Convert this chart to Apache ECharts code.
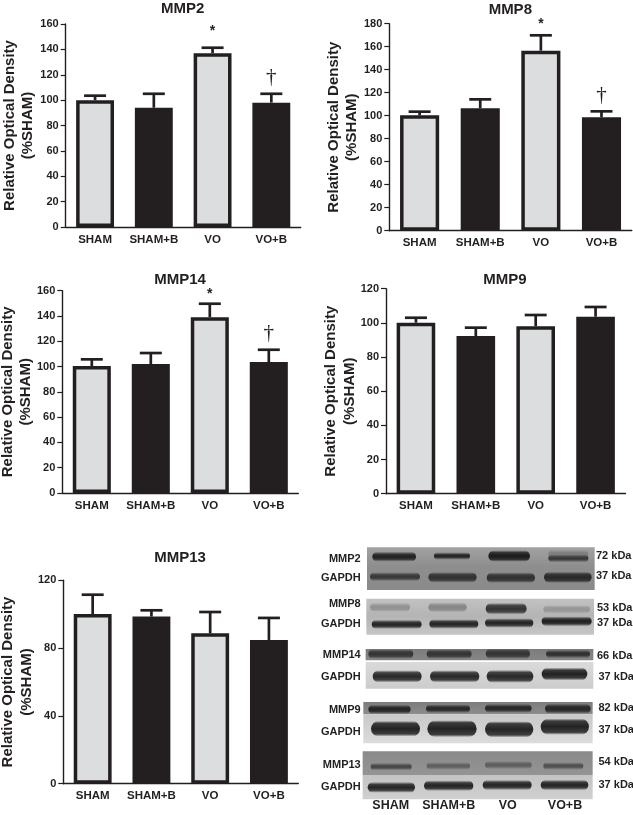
<!DOCTYPE html>
<html><head><meta charset="utf-8">
<style>html,body{margin:0;padding:0;background:#fff}#c{width:633px;height:815px}</style>
<script src="https://cdn.jsdelivr.net/npm/echarts@6/dist/echarts.min.js"></script>
</head><body><div id="c"></div>
<script>
// ---------- chart data ----------
const categories = ['SHAM', 'SHAM+B', 'VO', 'VO+B'];

const mmp2Means = [100, 94, 137, 98];
const mmp2Upper = [103.5, 105, 141.3, 105];
const mmp8Means = [100.3, 106.4, 156.5, 98.6];
const mmp8Upper = [103.5, 114.2, 169.9, 103.8];
const mmp14Means = [100.4, 102, 139, 103.6];
const mmp14Upper = [105.7, 110.7, 149.7, 113.3];
const mmp9Means = [100.1, 92.3, 98, 103.6];
const mmp9Upper = [103, 97.2, 104.6, 109.3];
const mmp13Means = [100.1, 98.6, 88.7, 84.8];
const mmp13Upper = [111.5, 102.3, 101.3, 97.8];

// significance marks: [category index, value the mark is centred on, glyph]
const mmp2Marks = [[2, 154, '*'], [3, 117.5, '†']];
const mmp8Marks = [[2, 180, '*'], [3, 118, '†']];
const mmp14Marks = [[2, 157, '*'], [3, 126, '†']];

const panels = [
  { name: 'MMP2',  means: mmp2Means,  upper: mmp2Upper,  marks: mmp2Marks,  max: 160, step: 20, left: 65.7,  top: 24,    w: 235,   h: 203,   tx: 182.7, ty: 9,     gap: 28.5 },
  { name: 'MMP8',  means: mmp8Means,  upper: mmp8Upper,  marks: mmp8Marks,  max: 180, step: 20, left: 389.3, top: 23.7,  w: 242.5, h: 207,   tx: 510.3, ty: 10,    gap: 28 },
  { name: 'MMP14', means: mmp14Means, upper: mmp14Upper, marks: mmp14Marks, max: 160, step: 20, left: 62.3,  top: 290.7, w: 236,   h: 202.3, tx: 180,   ty: 280.3, gap: 27 },
  { name: 'MMP9',  means: mmp9Means,  upper: mmp9Upper,  marks: [],         max: 120, step: 20, left: 386,   top: 288.7, w: 239.5, h: 205,   tx: 505,   ty: 280,   gap: 27 },
  { name: 'MMP13', means: mmp13Means, upper: mmp13Upper, marks: [],         max: 120, step: 40, left: 63.3,  top: 580.3, w: 235,   h: 203.4, tx: 180,   ty: 557.7, gap: 27.5 }
];

// ---------- western blot panel (units: blot grid, 3 units = 1 pixel) ----------
// strip: [x0, x1, y0, y1, top colour, bottom colour]
const blotStrips = [
  [141, 824, 52, 108, '#a2a2a2', '#8e8e8e'],
  [141, 824, 108, 180, '#8e8e8e', '#8a8a8a'],
  [139, 822, 206, 258, '#c2c2c2', '#b4b4b4'],
  [139, 822, 258, 314, '#b4b4b4', '#c6c6c6'],
  [137, 820, 357, 391, '#7c7c7c', '#868686'],
  [137, 820, 396, 476, '#dadada', '#cccccc'],
  [130, 818, 516, 553, '#7c7c7c', '#8c8c8c'],
  [130, 818, 553, 640, '#c8c8c8', '#dcdcdc'],
  [128, 818, 664, 735, '#8a8a8a', '#949494'],
  [128, 818, 735, 808, '#c4c4c4', '#d0d0d0']
];
// band: [x0, x1, centre y, thickness, darkness 0-1]
const blotBands = [
  [157, 288, 80, 15, .92], [342, 450, 78, 8, .92], [505, 630, 78, 20, .96], [685, 805, 85, 9, .75], [685, 805, 71, 8, .22],
  [150, 300, 140, 12, .72], [325, 470, 142, 17, .78], [500, 645, 143, 17, .78], [672, 815, 142, 19, .85],
  [150, 270, 232, 13, .25], [325, 440, 232, 15, .32], [497, 620, 236, 20, .82], [670, 810, 238, 11, .22],
  [155, 305, 283, 13, .92], [328, 475, 282, 14, .92], [495, 640, 279, 14, .92], [665, 815, 274, 15, .95],
  [145, 280, 372, 14, .72], [320, 455, 372, 14, .72], [497, 630, 371, 16, .72], [678, 810, 372, 10, .78],
  [158, 305, 439, 22, .9], [330, 478, 439, 22, .9], [500, 640, 439, 24, .9], [665, 802, 432, 24, .94],
  [145, 272, 538, 13, .88], [318, 450, 536, 11, .85], [495, 635, 535, 12, .85], [675, 812, 536, 15, .85],
  [153, 300, 596, 32, .93], [322, 470, 596, 36, .93], [495, 640, 598, 34, .92], [662, 807, 590, 34, .93],
  [152, 275, 710, 8, .62], [320, 450, 708, 8, .42], [495, 635, 705, 9, .42], [670, 790, 708, 8, .55],
  [143, 285, 772, 18, .92], [312, 460, 767, 17, .92], [488, 635, 765, 16, .92], [662, 805, 765, 17, .92]
];
// blot labels: [text, x pixel, y pixel, align]
const blotLabels = [
  ['MMP2', 360.7, 559, 'right'], ['GAPDH', 360.7, 577.7, 'right'],
  ['MMP8', 360.7, 604, 'right'], ['GAPDH', 360.7, 623.5, 'right'],
  ['MMP14', 360.7, 654.5, 'right'], ['GAPDH', 360.7, 676.5, 'right'],
  ['MMP9', 360.7, 709.5, 'right'], ['GAPDH', 360.7, 731.5, 'right'],
  ['MMP13', 360.7, 765, 'right'], ['GAPDH', 360.7, 787, 'right']
];
const kdaLabels = [
  ['72 kDa', 596, 556], ['37 kDa', 596, 576],
  ['53 kDa', 597, 607.5], ['37 kDa', 597, 622.5],
  ['66 kDa', 597, 656], ['37 kDa', 598.5, 677],
  ['82 kDa', 598.5, 707.5], ['37 kDa', 598.5, 729.5],
  ['54 kDa', 598.5, 762], ['37 kDa', 598.5, 785]
];
const blotLaneCentres = [390.7, 448.7, 507.7, 565];

// ---------- styles ----------
const INK = '#231f20', GREY = '#dcddde';
const SANS = '"Liberation Sans", Arial, sans-serif';

const grid = [], xAxis = [], yAxis = [], series = [], title = [];

panels.forEach((p, i) => {
  grid.push({ left: p.left, top: p.top, width: p.w, height: p.h, containLabel: false, outerBoundsMode: 'none' });
  xAxis.push({
    type: 'category', gridIndex: i, data: categories,
    axisLine: { lineStyle: { color: INK, width: 1.4 } },
    axisTick: { alignWithLabel: true, length: 4, lineStyle: { color: INK, width: 1.2 } },
    axisLabel: { color: INK, fontFamily: SANS, fontWeight: 'bold', fontSize: 11.5, margin: 6.5, interval: 0 }
  });
  yAxis.push({
    type: 'value', gridIndex: i, min: 0, max: p.max, interval: p.step,
    name: 'Relative Optical Density\n(%SHAM)', nameLocation: 'middle', nameGap: p.gap, nameMoveOverlap: false,
    nameTextStyle: { color: INK, fontFamily: SANS, fontWeight: 'bold', fontSize: 15, lineHeight: 18.5 },
    axisLine: { show: true, lineStyle: { color: INK, width: 1.4 } },
    axisTick: { show: true, length: 5, lineStyle: { color: INK, width: 1.2 } },
    splitLine: { show: false },
    axisLabel: { color: INK, fontFamily: SANS, fontWeight: 'bold', fontSize: 11, margin: 7 }
  });
  title.push({
    text: p.name, left: p.tx, top: p.ty, padding: 0, textAlign: 'center', textVerticalAlign: 'middle',
    textStyle: { color: INK, fontFamily: SANS, fontWeight: 'bold', fontSize: 15 }
  });
  series.push({
    type: 'bar', xAxisIndex: i, yAxisIndex: i, barWidth: p.w / 4 * 0.645, silent: true,
    data: p.means.map((v, k) => ({
      value: v,
      itemStyle: { color: k % 2 ? INK : GREY, borderColor: INK, borderWidth: 3.5 }
    }))
  });
  series.push({
    type: 'custom', xAxisIndex: i, yAxisIndex: i, silent: true, z: 3,
    data: p.upper.map((u, k) => [k, p.means[k], u]),
    encode: { x: 0, y: [1, 2] },
    renderItem(params, api) {
      const a = api.coord([api.value(0), api.value(1)]);
      const b = api.coord([api.value(0), api.value(2)]);
      const st = { stroke: INK, lineWidth: 2.7, fill: null };
      return { type: 'group', children: [
        { type: 'line', shape: { x1: a[0], y1: a[1], x2: b[0], y2: b[1] }, style: st },
        { type: 'line', shape: { x1: b[0] - 11, y1: b[1], x2: b[0] + 11, y2: b[1] }, style: st }
      ] };
    }
  });
  if (p.marks.length) series.push({
    type: 'custom', xAxisIndex: i, yAxisIndex: i, silent: true, z: 4,
    data: p.marks.map(m => [m[0], m[1]]),
    encode: { x: 0, y: 1 },
    renderItem(params, api) {
      const c = api.coord([api.value(0), api.value(1)]);
      const glyph = p.marks[params.dataIndex][2];
      return { type: 'text', style: {
        text: glyph, x: c[0], y: c[1], align: 'center', verticalAlign: 'middle', fill: INK,
        font: glyph === '*' ? 'bold 14px ' + SANS : '21px "Liberation Serif", serif'
      } };
    }
  });
});

// blot grid: hidden value axes map blot units onto the lower-right corner
const bi = panels.length;
grid.push({ left: 320, top: 530, width: 313, height: 285, outerBoundsMode: 'none' });
xAxis.push({ type: 'value', gridIndex: bi, min: 0, max: 939, show: false });
yAxis.push({ type: 'value', gridIndex: bi, min: 0, max: 855, inverse: true, show: false });
series.push({
  type: 'custom', xAxisIndex: bi, yAxisIndex: bi, silent: true, z: 1,
  data: blotStrips.map(s => s.slice(0, 4)),
  encode: { x: [0, 1], y: [2, 3] },
  renderItem(params, api) {
    const a = api.coord([api.value(0), api.value(2)]);
    const b = api.coord([api.value(1), api.value(3)]);
    const s = blotStrips[params.dataIndex];
    return { type: 'rect', shape: { x: a[0], y: a[1], width: b[0] - a[0], height: b[1] - a[1] },
      style: { fill: new echarts.graphic.LinearGradient(0, 0, 0, 1, [{ offset: 0, color: s[4] }, { offset: 1, color: s[5] }]) } };
  }
});
series.push({
  type: 'custom', xAxisIndex: bi, yAxisIndex: bi, silent: true, z: 2,
  data: blotBands,
  encode: { x: [0, 1], y: 2 },
  renderItem(params, api) {
    const a = api.coord([api.value(0), api.value(2)]);
    const b = api.coord([api.value(1), api.value(2)]);
    const core = api.value(3) / 3, d = api.value(4), soft = 2.5;
    const total = core + soft * 2, edge = soft / total;
    const ink = al => `rgba(22,22,22,${al})`;
    const fill = new echarts.graphic.LinearGradient(0, 0, 0, 1, [
      { offset: 0, color: ink(0) }, { offset: edge, color: ink(d * .85) },
      { offset: .5, color: ink(d) },
      { offset: 1 - edge, color: ink(d * .85) }, { offset: 1, color: ink(0) }
    ]);
    return { type: 'rect',
      shape: { x: a[0], y: a[1] - total / 2, width: b[0] - a[0], height: total, r: total / 2 },
      style: { fill } };
  }
});

const txt = (t, x, y, align, size) => ({
  type: 'text', x, y, silent: true, z: 10,
  style: { text: t, align, verticalAlign: 'middle', fill: INK, font: 'bold ' + size + 'px ' + SANS }
});
const graphic = [
  ...blotLabels.map(l => txt(l[0], l[1], l[2], l[3], 11)),
  ...kdaLabels.map(l => txt(l[0], l[1], l[2], 'left', 11)),
  ...categories.map((c, i) => txt(c, blotLaneCentres[i], 806, 'center', 12.5))
];

echarts.init(document.getElementById('c'), null, { renderer: 'canvas' }).setOption({
  animation: false, backgroundColor: '#fff', tooltip: { show: false },
  title, grid, xAxis, yAxis, series, graphic
});
</script></body></html>
